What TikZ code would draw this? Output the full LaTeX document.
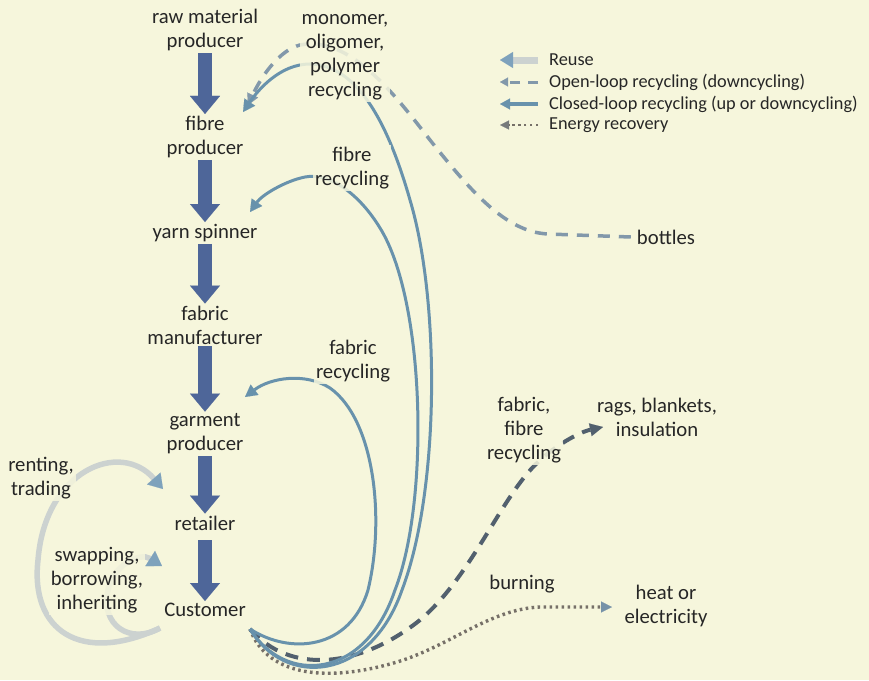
\documentclass[tikz,border=0pt]{standalone}
\usepackage{fontspec}
\setmainfont{Carlito}
\usetikzlibrary{arrows.meta}
\definecolor{bg}{RGB}{246,246,220}
\definecolor{txt}{RGB}{38,38,38}
\definecolor{bigblue}{RGB}{78,102,153}
\definecolor{closedc}{RGB}{104,146,172}
\definecolor{openc}{RGB}{130,152,170}
\definecolor{darkd}{RGB}{82,96,110}
\definecolor{dotc}{RGB}{118,112,104}
\definecolor{headc}{RGB}{118,146,168}
\definecolor{reusec}{RGB}{204,210,208}
\definecolor{reusehead}{RGB}{126,162,188}
\pgfdeclarelayer{lines}
\pgfsetlayers{lines,main}
\begin{document}
\begin{tikzpicture}[x=1pt,y=-1pt,
  lbl/.style={align=center, font=\fontsize{20.7}{24}\selectfont, text=txt, inner sep=2pt},
  fade/.style={fill=bg, fill opacity=0.85, text opacity=1},
  leg/.style={anchor=west, font=\fontsize{18.3}{22}\selectfont, text=txt, inner sep=0pt},
  bigarrow/.style={line width=14pt, draw=bigblue, -{Triangle[width=30pt,length=18pt,line width=0.1pt]}},
  closed/.style={line width=3pt, draw=closedc, -{Triangle[width=13pt,length=12pt,line width=0.1pt]}},
  openl/.style={line width=3.5pt, draw=openc, dash pattern=on 12pt off 9pt, -{Triangle[width=12pt,length=11pt,line width=0.1pt]}},
  darkdash/.style={line width=4pt, draw=darkd, dash pattern=on 13pt off 9pt, -{Triangle[width=13pt,length=13pt,line width=0.1pt]}},
  dotl/.style={line width=3.4pt, draw=dotc, dash pattern=on 2.6pt off 3.4pt, -{Triangle[width=11pt,length=11pt,line width=0.1pt,color=headc]}},
  reuse/.style={line width=5.5pt, draw=reusec, -{Triangle[width=18pt,length=14pt,line width=0.1pt,color=reusehead]}}
]
\begin{pgfonlayer}{lines}
\fill[bg] (0,0) rectangle (869,680);
\end{pgfonlayer}
\useasboundingbox (0,0) rectangle (869,680);

% main chain
\node[lbl] (raw) at (205,30) {raw material\\producer};
\node[lbl] (fibre) at (205,137) {fibre\\producer};
\node[lbl] (yarn) at (205,233) {yarn spinner};
\node[lbl] (fabric) at (205,325) {fabric\\manufacturer};
\node[lbl] (garment) at (205,434) {garment\\producer};
\node[lbl] (retailer) at (205,523) {retailer};
\node[lbl] (cust) at (205,610) {Customer};

\draw[bigarrow] (raw) -- (fibre);
\draw[bigarrow] (fibre) -- (yarn);
\draw[bigarrow] (yarn) -- (fabric);
\draw[bigarrow] (fabric) -- (garment);
\draw[bigarrow] (garment) -- (retailer);
\draw[bigarrow, shorten <=8pt] (retailer) -- (cust);

% labels of loops
\node[lbl,fade] (mono) at (345,57) {monomer,\\oligomer,\\polymer\\recycling};
\node[lbl,fade] (fibrec) at (352,168) {fibre\\recycling};
\node[lbl,fade] (fabrec) at (353,361) {fabric\\recycling};
\node[lbl,fade] (fffrec) at (524,430) {fabric,\\fibre\\recycling};
\node[lbl] (rags) at (657,417) {rags, blankets,\\insulation};
\node[lbl] (bottles) at (666,237) {bottles};
\node[lbl,fade] (burning) at (522,584) {burning};
\node[lbl] (heat) at (666,606) {heat or\\electricity};
\node[lbl,fade] (renting) at (41,478) {renting,\\trading};
\node[lbl,fade] (swapping) at (97,580) {swapping,\\borrowing,\\inheriting};

% connector end points
\coordinate (src) at (250,629);
\coordinate (fibin) at (243,112);
\coordinate (fibin2) at (248,105);
\coordinate (yarnin) at (250,212);
\coordinate (garin) at (245,397);
\coordinate (ragsin) at (603,427);
\coordinate (heatin) at (612,607);
\coordinate (rsrc) at (160,628);
\coordinate (retin) at (163,489);
\coordinate (custin) at (162,566);

\begin{pgfonlayer}{lines}
% reuse loops
\draw[reuse] (rsrc) .. controls (80,665) and (30,630) .. (38,560) .. controls (45,470) and (120,440) .. (retin);
\draw[reuse] (rsrc) .. controls (130,645) and (100,625) .. (108,590) .. controls (113,565) and (140,552) .. (custin);
% open loop to bottles
\draw[openl] ([xshift=-4pt]bottles.west) -- (548,234) .. controls (505,232) and (470,190) .. (430,140) .. controls (395,95) and (350,35) .. (300,45) .. controls (280,50) and (262,75) .. (fibin2);
% energy recovery
\draw[dotl] (src) .. controls (268,678) and (330,682) .. (397,662) .. controls (450,646) and (490,609) .. (540,607) -- (heatin);
% open loop to rags
\draw[darkdash] (src) .. controls (290,675) and (360,668) .. (420,620) .. controls (470,578) and (500,500) .. (535,465) .. controls (555,445) and (580,432) .. (ragsin);
% closed loops
\draw[closed] (src) .. controls (290,655) and (350,650) .. (368,590) .. controls (385,520) and (375,420) .. (330,388) .. controls (305,372) and (270,378) .. (garin);
\draw[closed] (src) .. controls (285,685) and (365,680) .. (395,590) .. controls (430,500) and (425,300) .. (380,228) .. controls (360,195) and (330,172) .. (305,177) .. controls (285,181) and (262,195) .. (yarnin);
\draw[closed] (src) .. controls (285,688) and (370,682) .. (402,590) .. controls (440,490) and (440,300) .. (410,200) .. controls (390,130) and (360,65) .. (310,64) .. controls (280,64) and (258,90) .. (fibin);
\end{pgfonlayer}

% legend
\node[leg] (lreuse) at (549,60) {Reuse};
\node[leg] (lopen) at (549,82) {Open-loop recycling (downcycling)};
\node[leg] (lclosed) at (549,104) {Closed-loop recycling (up or downcycling)};
\node[leg] (lenergy) at (549,125) {Energy recovery};
\coordinate (g1a) at (538,60); \coordinate (g1b) at (500,60);
\coordinate (g2a) at (538,82); \coordinate (g2b) at (500,82);
\coordinate (g3a) at (538,104); \coordinate (g3b) at (500,104);
\coordinate (g4a) at (538,125); \coordinate (g4b) at (500,125);
\draw[reuse, line width=7pt, -{Triangle[width=16pt,length=13pt,line width=0.1pt,color=reusehead]}] (g1a) -- (g1b);
\draw[openl, line width=3pt, dash pattern=on 10pt off 8pt, -{Triangle[width=9pt,length=8pt,line width=0.1pt]}] (g2a) -- (g2b);
\draw[closed, line width=3.5pt, -{Triangle[width=11pt,length=10pt,line width=0.1pt]}] (g3a) -- (g3b);
\draw[dotl, line width=2.8pt, dash pattern=on 2.4pt off 3.4pt, -{Triangle[width=9pt,length=9pt,line width=0.1pt,color=dotc!70!headc]}] (g4a) -- (g4b);
\end{tikzpicture}
\end{document}
